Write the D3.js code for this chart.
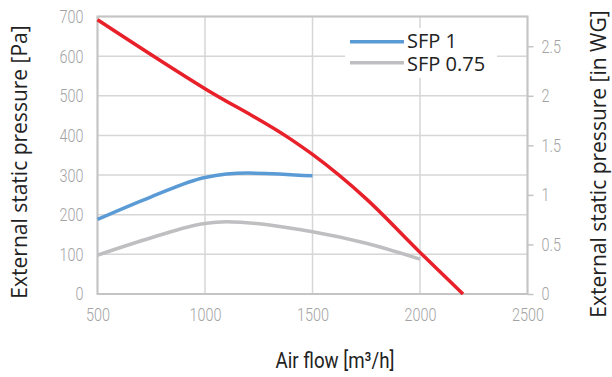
<!DOCTYPE html>
<html>
<head>
<meta charset="utf-8">
<title>Fan curve</title>
<style>
  body { margin: 0; background: #fff; }
  svg { display: block; }
  .tick text { font-family: Roboto, sans-serif; font-weight: 300; font-size: 18px; fill: #a3a3a3; }
  .grid line { stroke: #d6d6d6; stroke-width: 1.5px; }
  .title { font-family: "Open Sans", "Noto Sans", sans-serif; font-size: 21px; fill: #222; }
  .legend text { font-size: 20px; }
</style>
<script src="https://cdn.jsdelivr.net/npm/d3@7"></script>
</head>
<body>
<script>
// data
const redFlow = [500, 1000, 1400, 1500, 1750, 2000, 2200];
const redPa   = [692, 518, 390, 352, 240, 105, 0];
const sfp1Flow = [500, 750, 1000, 1200, 1500];
const sfp1Pa   = [188, 245, 294, 305, 298];
const sfp075Flow = [500, 750, 1000, 1100, 1500, 1750, 2000];
const sfp075Pa   = [98, 142, 178, 182, 157, 128, 88];
const xTicks = [500, 1000, 1500, 2000, 2500];
const yTicks = [0, 100, 200, 300, 400, 500, 600, 700];
const y2Ticks = [0, 0.5, 1, 1.5, 2, 2.5];

const W = 612, H = 377;
const plotL = 97.5, plotR = 527.5, plotT = 16.5, plotB = 294;
const squeeze = 0.8; // condensed look for tick labels

const svg = d3.select('body').append('svg')
    .attr('width', W)
    .attr('height', H);

const x = d3.scaleLinear().domain([500, 2500]).range([plotL, plotR]);
const y = d3.scaleLinear().domain([0, 700]).range([plotB, plotT]);
const y2 = d3.scaleLinear().domain([0, 2.8]).range([plotB, plotT]);

// grid
const grid = svg.append('g').attr('class', 'grid');
grid.selectAll('line.h').data(yTicks).enter().append('line')
    .attr('class', 'h')
    .attr('x1', plotL).attr('x2', plotR)
    .attr('y1', d => y(d)).attr('y2', d => y(d));
grid.selectAll('line.v').data(xTicks).enter().append('line')
    .attr('class', 'v')
    .attr('y1', plotT).attr('y2', plotB)
    .attr('x1', d => x(d)).attr('x2', d => x(d));

// frame
svg.append('rect')
    .attr('x', plotL).attr('y', plotT)
    .attr('width', plotR - plotL).attr('height', plotB - plotT)
    .attr('fill', 'none').attr('stroke', '#c4c4c4').attr('stroke-width', 2);

function condense(g) {
    g.selectAll('.tick text').each(function() {
        const t = d3.select(this);
        const tx = +t.attr('x') || 0;
        t.attr('x', tx / squeeze).attr('transform', 'scale(' + squeeze + ',1)');
    });
}

// axes (labels only)
const xAxis = svg.append('g')
    .attr('transform', 'translate(0,' + plotB + ')')
    .call(d3.axisBottom(x).tickValues(xTicks).tickSize(0).tickPadding(14).tickFormat(d3.format('d')));
xAxis.select('.domain').remove();
condense(xAxis);

const yAxis = svg.append('g')
    .attr('transform', 'translate(' + plotL + ',0)')
    .call(d3.axisLeft(y).tickValues(yTicks).tickSize(0).tickPadding(14));
yAxis.select('.domain').remove();
yAxis.selectAll('.tick text').attr('dy', '0.33em');
condense(yAxis);

const y2Axis = svg.append('g')
    .attr('transform', 'translate(' + plotR + ',0)')
    .call(d3.axisRight(y2).tickValues(y2Ticks).tickSize(6).tickPadding(8).tickFormat(d => d));
y2Axis.select('.domain').remove();
y2Axis.selectAll('.tick line').attr('stroke', '#c4c4c4').attr('stroke-width', 1.5);
y2Axis.selectAll('.tick text').attr('dy', '0.33em');
condense(y2Axis);

// curves
const line = d3.line()
    .x(d => x(d[0]))
    .y(d => y(d[1]))
    .curve(d3.curveMonotoneX);

function pairs(a, b) { return a.map((v, i) => [v, b[i]]); }

svg.append('path').datum(pairs(sfp075Flow, sfp075Pa))
    .attr('d', line).attr('fill', 'none')
    .attr('stroke', '#bfbfc1').attr('stroke-width', 3.5);
svg.append('path').datum(pairs(sfp1Flow, sfp1Pa))
    .attr('d', line).attr('fill', 'none')
    .attr('stroke', '#5b9bd5').attr('stroke-width', 3.5);
svg.append('path').datum(pairs(redFlow, redPa))
    .attr('d', line).attr('fill', 'none')
    .attr('stroke', '#e8202a').attr('stroke-width', 3.5);

// legend
const legend = svg.append('g').attr('class', 'legend');
legend.append('rect')
    .attr('x', 345).attr('y', 28).attr('width', 152).attr('height', 50)
    .attr('fill', '#fff');
const legItems = [['SFP 1', '#5b9bd5'], ['SFP 0.75', '#bfbfc1']];
legItems.forEach((d, i) => {
    legend.append('line')
        .attr('x1', 350).attr('x2', 404)
        .attr('y1', 41.7 + i * 21).attr('y2', 41.7 + i * 21)
        .attr('stroke', d[1]).attr('stroke-width', 3.5);
    legend.append('text')
        .attr('class', 'title')
        .attr('x', 407).attr('y', 48 + i * 22.5)
        .text(d[0]);
});

// axis titles
svg.append('text')
    .attr('class', 'title')
    .attr('text-anchor', 'middle')
    .attr('transform', 'translate(27,162) rotate(-90)')
    .text('External static pressure [Pa]');

svg.append('text')
    .attr('class', 'title')
    .attr('text-anchor', 'middle')
    .attr('transform', 'translate(606,164) rotate(-90)')
    .text('External static pressure [in WG]');

svg.append('text')
    .attr('text-anchor', 'middle')
    .attr('x', 335).attr('y', 368)
    .style('font-family', 'Roboto, sans-serif')
    .style('font-size', '22px')
    .style('fill', '#222')
    .attr('transform', 'translate(' + (335 - 335 * 0.85) + ',0) scale(0.85,1)')
    .text('Air flow [m³/h]');
</script>
</body>
</html>
